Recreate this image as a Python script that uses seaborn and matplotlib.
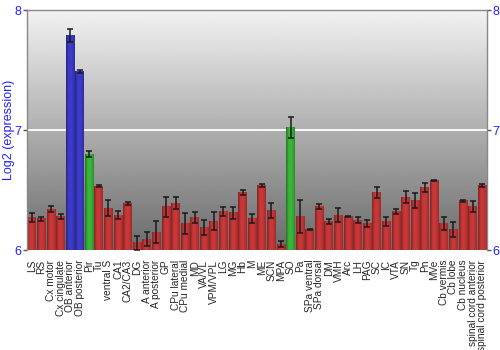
import numpy as np
import pandas as pd
import matplotlib
matplotlib.use("Agg")
import matplotlib.pyplot as plt
import seaborn as sns
from matplotlib.colors import to_rgb

regions = ["LS", "RS", "Cx motor", "Cx cingulate", "OB anterior", "OB posterior", "Pir", "Tu",
           "ventral S", "CA1", "CA2/CA3", "DG", "A anterior", "A posterior", "GP", "CPu lateral",
           "CPu medial", "MD", "VA/VL", "VPM/VPL", "LG", "MG", "Hb", "M", "ME", "SCN", "MPA", "SO",
           "Pa", "SPa ventral", "SPa dorsal", "DM", "VMH", "Arc", "LH", "PAG", "SC", "IC", "VTA",
           "SN", "Tg", "Pn", "MVe", "Cb vermis", "Cb lobe", "Cb nucleus", "spinal cord anterior",
           "spinal cord posterior"]
expression = [6.27, 6.26, 6.34, 6.28, 7.79, 7.49, 6.80, 6.53,
              6.35, 6.29, 6.39, 6.06, 6.09, 6.15, 6.36, 6.39,
              6.22, 6.27, 6.19, 6.24, 6.32, 6.31, 6.48, 6.26, 6.54, 6.33, 6.05, 7.02,
              6.28, 6.17, 6.36, 6.24, 6.29, 6.28, 6.25, 6.22, 6.48, 6.24, 6.32,
              6.44, 6.41, 6.52, 6.58, 6.22, 6.17, 6.41, 6.36, 6.54]
sem = [0.037, 0.015, 0.024, 0.019, 0.053, 0.013, 0.022, 0.008,
       0.070, 0.035, 0.014, 0.060, 0.060, 0.093, 0.085, 0.051,
       0.086, 0.046, 0.063, 0.076, 0.036, 0.049, 0.019, 0.036, 0.011, 0.064, 0.029, 0.088,
       0.140, 0.006, 0.022, 0.022, 0.057, 0.004, 0.025, 0.032, 0.047, 0.036, 0.022,
       0.049, 0.064, 0.037, 0.004, 0.056, 0.065, 0.006, 0.046, 0.014]
groups = ["other"] * len(regions)
groups[4] = groups[5] = "OB"
groups[6] = groups[27] = "highlight"

palette = {"other": "#bc3434", "OB": "#3838bc", "highlight": "#36aa36"}

sns.set_theme(style="white")
plt.rcParams['font.family'] = ['Liberation Sans', 'DejaVu Sans']

fig = plt.figure(figsize=(5, 3.5), dpi=100)
ax = fig.add_axes([0.054, 0.2857, 0.92, 0.6857])

df = pd.DataFrame(dict(region=regions, expression=expression, group=groups))
sns.barplot(data=df, x="region", y="expression", hue="group", palette=palette,
            dodge=False, width=0.92, legend=False, ax=ax, saturation=1, errorbar=None,
            linewidth=0)

n = len(regions)
# background gradient
grad = np.linspace(0.42, 0.95, 256).reshape(-1, 1)
ax.imshow(grad, extent=[-0.5, n - 0.5, 6, 8], origin="lower", aspect="auto",
          cmap="gray", vmin=0, vmax=1, zorder=-2, interpolation="bilinear")
ax.axhline(7, color="white", lw=1.3, zorder=-1)

# shaded bars
t = np.linspace(0, 1, 24)
profile = np.interp(t, [0, 0.12, 0.3, 0.6, 0.85, 1], [0.68, 0.85, 1.05, 1.08, 0.95, 0.82])
for p in list(ax.patches):
    x0, y0, w, h = p.get_x(), p.get_y(), p.get_width(), p.get_height()
    base = np.array(to_rgb(p.get_facecolor()))
    arr = np.clip(profile[:, None] * base[None, :], 0, 1)[None, :, :]
    ax.imshow(arr, extent=[x0, x0 + w, y0, y0 + h], aspect="auto",
              zorder=p.get_zorder() + 0.1, interpolation="bilinear")

ax.errorbar(np.arange(n), expression, yerr=sem, fmt="none", ecolor="#1a1a1a",
            elinewidth=1.1, capsize=2.5, capthick=1.1, zorder=5)

ax.set_xlim(-0.5, n - 0.5)
ax.set_ylim(6, 8)
ax.set_yticks([6, 7, 8])
ax.set_xlabel("")
ax.set_ylabel("Log2 (expression)", color="#2020ff", fontsize=9)
ax.yaxis.set_label_coords(-0.026, 0.5)
ax.tick_params(axis="y", left=True, right=True, labelleft=True, labelright=True,
               length=3, width=1, color="#555555", labelcolor="#2020ff", labelsize=9, pad=1)
ax.tick_params(axis="x", bottom=False, labelsize=7.3, pad=1)
plt.setp(ax.get_xticklabels(), rotation=90)
for s in ["left", "right", "top"]:
    ax.spines[s].set_color("#888888")
    ax.spines[s].set_linewidth(1)
ax.spines["bottom"].set_visible(False)

fig.savefig("out.png", dpi=100)
